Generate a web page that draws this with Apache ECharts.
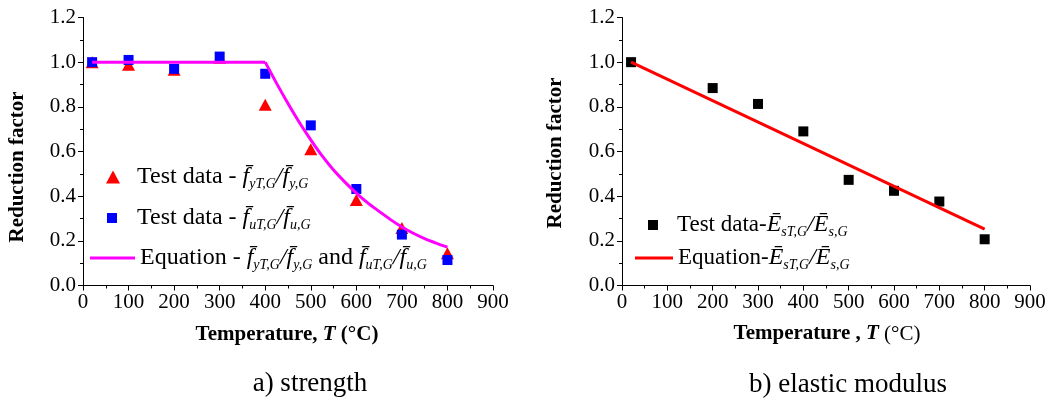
<!DOCTYPE html>
<html><head><meta charset="utf-8">
<script src="https://cdn.jsdelivr.net/npm/echarts@6/dist/echarts.min.js"></script>
<style>html,body{margin:0;padding:0;background:#fff}#c{width:1059px;height:401px}</style>
</head><body><div id="c"></div>
<script>
const temps = [20, 100, 200, 300, 400, 500, 600, 700, 800];
const fyRatio = [1.0, 0.988, 0.966, 1.02, 0.809, 0.610, 0.383, 0.258, 0.144];
const fuRatio = [1.0, 1.010, 0.970, 1.025, 0.948, 0.717, 0.432, 0.228, 0.114];
const eqFlatTemps = [20, 400];
const eqFlat = [1, 1];
const eqCurveTemps = [400, 425, 450, 475, 500, 525, 550, 575, 600, 625, 650, 675, 700, 725, 750, 775, 800];
const eqCurve = [1, 0.905, 0.815, 0.73, 0.652, 0.58, 0.517, 0.463, 0.414, 0.37, 0.332, 0.295, 0.262, 0.234, 0.21, 0.19, 0.172];
const eTemps = [20, 200, 300, 400, 500, 600, 700, 800];
const eRatio = [1.0, 0.884, 0.813, 0.690, 0.473, 0.424, 0.376, 0.207];
const eqETemps = [20, 800];
const eqModulus = [1.0, 0.252];
const xTicks = [0, 900, 100];
const yTicks = [0, 1.2, 0.2];

const FF = '"Liberation Serif", "Times New Roman", serif';
const pair = (xs, ys) => xs.map((x, i) => [x, ys[i]]);
const FB = 'f\u0304';
const rich = {
  t: {fontFamily: FF, fontSize: 24, lineHeight: 28, color: '#000'},
  tp: {fontFamily: FF, fontSize: 24, lineHeight: 28, color: '#000', padding: [0, 0, 0, 12]},
  tq: {fontFamily: FF, fontSize: 24, lineHeight: 28, color: '#000', padding: [0, 0, 0, 15]},
  tr: {fontFamily: FF, fontSize: 23, lineHeight: 28, color: '#000', padding: [0, 0, 0, 14]},
  t2: {fontFamily: FF, fontSize: 23, lineHeight: 28, color: '#000'},
  f: {fontFamily: FF, fontSize: 24, fontStyle: 'italic', lineHeight: 28, color: '#000'},
  s: {fontFamily: FF, fontSize: 14, fontStyle: 'italic', lineHeight: 16, verticalAlign: 'bottom', color: '#000'}
};
const fLbl = (a, b) => '{f|' + FB + '}{s|' + a + '}{f|/' + FB + '}{s|' + b + '}';
const eLbl = '{f|\u0112}{s|sT,G}{f|/\u0112}{s|s,G}';

function xAxis(idx) {
  return {gridIndex: idx, type: 'value', min: xTicks[0], max: xTicks[1], interval: xTicks[2],
    axisLine: {lineStyle: {color: '#000', width: 1}},
    axisTick: {show: true, length: 5, inside: false, lineStyle: {color: '#000'}},
    minorTick: {show: true, splitNumber: 2, length: 3, lineStyle: {color: '#000'}},
    splitLine: {show: false},
    axisLabel: {color: '#000', fontFamily: FF, fontSize: 21, margin: 6}};
}
function yAxis(idx) {
  return {gridIndex: idx, type: 'value', min: yTicks[0], max: yTicks[1], interval: yTicks[2],
    axisLine: {show: true, lineStyle: {color: '#000', width: 1}},
    axisTick: {show: true, length: 5, inside: false, lineStyle: {color: '#000'}},
    minorTick: {show: true, splitNumber: 2, length: 3, lineStyle: {color: '#000'}},
    splitLine: {show: false},
    axisLabel: {color: '#000', fontFamily: FF, fontSize: 21, margin: 7, formatter: v => v.toFixed(1)}};
}
const leg = (item, left, top, w, h, fmt) => ({
  data: [item], left: left, top: top, itemWidth: w, itemHeight: h, orient: 'vertical',
  selectedMode: false, padding: 0, formatter: () => fmt, textStyle: {rich: rich}
});

const chart = echarts.init(document.getElementById('c'), null, {renderer: 'canvas'});
chart.setOption({
  animation: false,
  grid: [
    {left: 83, top: 17.5, width: 410, height: 268},
    {left: 622, top: 17.5, width: 408, height: 268}
  ],
  xAxis: [xAxis(0), xAxis(1)],
  yAxis: [yAxis(0), yAxis(1)],
  legend: [
    leg({name: 'fyL', icon: 'triangle'}, 106, 165, 14, 13, '{tp|Test data - }' + fLbl('yT,G', 'y,G')),
    leg({name: 'fuL', icon: 'rect'}, 107, 206, 10, 10, '{tq|Test data - }' + fLbl('uT,G', 'u,G')),
    leg({name: 'eqL', icon: 'rect'}, 90, 246, 45, 3, '{t|Equation - }' + fLbl('yT,G', 'y,G') + '{t| and }' + fLbl('uT,G', 'u,G')),
    leg({name: 'eT', icon: 'rect'}, 648, 213, 10, 10, '{tr|Test data-}' + eLbl),
    leg({name: 'eEq', icon: 'rect'}, 635, 246, 38, 3, '{t2|Equation-}' + eLbl)
  ],
  series: [
    {name: 'fyL', type: 'scatter', xAxisIndex: 0, yAxisIndex: 0, symbol: 'triangle', symbolSize: [13, 12],
      itemStyle: {color: '#ff0000', opacity: 1}, data: pair(temps, fyRatio), z: 2},
    {name: 'fuL', type: 'scatter', xAxisIndex: 0, yAxisIndex: 0, symbol: 'rect', symbolSize: 10,
      itemStyle: {color: '#0000ff', opacity: 1}, data: pair(temps, fuRatio), z: 3},
    {name: 'eqL', type: 'line', xAxisIndex: 0, yAxisIndex: 0, symbol: 'none', smooth: false,
      lineStyle: {color: '#ff00ff', width: 3}, itemStyle: {color: '#ff00ff'}, data: pair(eqFlatTemps, eqFlat), z: 4},
    {name: 'eqL', type: 'line', xAxisIndex: 0, yAxisIndex: 0, symbol: 'none', smooth: 0.3,
      lineStyle: {color: '#ff00ff', width: 3}, itemStyle: {color: '#ff00ff'}, data: pair(eqCurveTemps, eqCurve), z: 4},
    {name: 'eT', type: 'scatter', xAxisIndex: 1, yAxisIndex: 1, symbol: 'rect', symbolSize: 10,
      itemStyle: {color: '#000', opacity: 1}, data: pair(eTemps, eRatio), z: 2},
    {name: 'eEq', type: 'line', xAxisIndex: 1, yAxisIndex: 1, symbol: 'none',
      lineStyle: {color: '#ff0000', width: 3}, itemStyle: {color: '#ff0000'}, data: pair(eqETemps, eqModulus), z: 4}
  ],
  graphic: [
    {type: 'text', x: 18, y: 167, rotation: Math.PI / 2,
      style: {text: 'Reduction factor', font: 'bold 21px "Liberation Serif"', fill: '#000', align: 'center', verticalAlign: 'middle'}},
    {type: 'text', x: 556, y: 153, rotation: Math.PI / 2,
      style: {text: 'Reduction factor', font: 'bold 21px "Liberation Serif"', fill: '#000', align: 'center', verticalAlign: 'middle'}},
    {type: 'text', x: 287, y: 335,
      style: {text: '{b|Temperature, }{bi|T}{b| (°C)}', align: 'center', verticalAlign: 'middle',
        rich: {b: {fontFamily: FF, fontWeight: 'bold', fontSize: 21, fill: '#000'},
               bi: {fontFamily: FF, fontWeight: 'bold', fontStyle: 'italic', fontSize: 21, fill: '#000'}}}},
    {type: 'text', x: 827, y: 334,
      style: {text: '{b|Temperature , }{bi|T}{r| (°C)}', align: 'center', verticalAlign: 'middle',
        rich: {b: {fontFamily: FF, fontWeight: 'bold', fontSize: 21, fill: '#000'},
               bi: {fontFamily: FF, fontWeight: 'bold', fontStyle: 'italic', fontSize: 21, fill: '#000'},
               r: {fontFamily: FF, fontSize: 21, fill: '#000'}}}},
    {type: 'text', x: 310, y: 384,
      style: {text: 'a) strength', font: '27px "Liberation Serif"', fill: '#000', align: 'center', verticalAlign: 'middle'}},
    {type: 'text', x: 848, y: 385,
      style: {text: 'b) elastic modulus', font: '27px "Liberation Serif"', fill: '#000', align: 'center', verticalAlign: 'middle'}}
  ]
});
</script></body></html>
